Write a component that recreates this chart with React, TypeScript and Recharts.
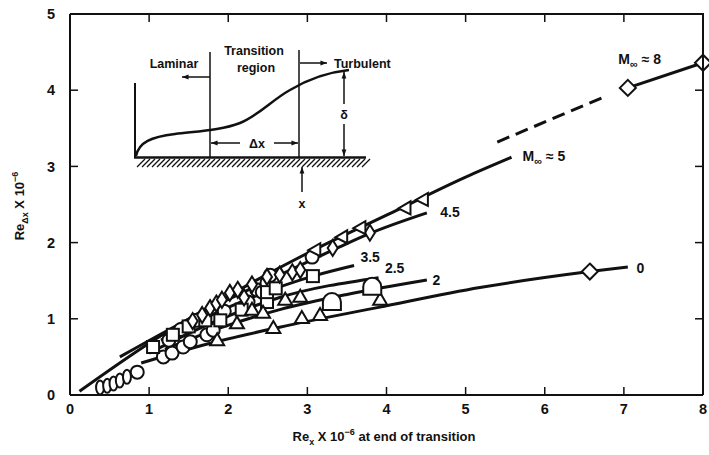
import React from 'react'
import { ComposedChart, Line, Scatter, XAxis, YAxis } from 'recharts'

const INK = '#111'
const FONT = '"Liberation Sans", Arial, sans-serif'

const X_TICKS = [0, 1, 2, 3, 4, 5, 6, 7, 8]
const Y_TICKS = [0, 1, 2, 3, 4, 5]

// plot box in page pixels (margin + axis sizes below)
const BOX = { left: 70, top: 14, right: 703, bottom: 395 }

// faired curves, Re_x vs Re_dx (both x 1e-6)
const mach5Curve = [
  { x: 0.12, y: 0.05 }, { x: 1.0, y: 0.68 }, { x: 2.0, y: 1.3 }, { x: 3.0, y: 1.86 },
  { x: 4.0, y: 2.36 }, { x: 5.0, y: 2.86 }, { x: 5.58, y: 3.12 },
]
const mach8Dashed = [{ x: 5.4, y: 3.32 }, { x: 6.75, y: 3.91 }]
const mach8Curve = [{ x: 7.05, y: 4.03 }, { x: 8.0, y: 4.36 }]
const mach45Curve = [
  { x: 0.63, y: 0.5 }, { x: 1.6, y: 1.05 }, { x: 2.5, y: 1.5 }, { x: 3.32, y: 1.9 },
  { x: 3.79, y: 2.12 }, { x: 4.51, y: 2.39 },
]
const mach35Curve = [{ x: 1.15, y: 0.72 }, { x: 2.0, y: 1.15 }, { x: 3.07, y: 1.56 }, { x: 3.59, y: 1.7 }]
const mach25Curve = [{ x: 1.0, y: 0.55 }, { x: 1.8, y: 0.95 }, { x: 2.65, y: 1.28 }, { x: 3.9, y: 1.54 }]
const mach2Curve = [
  { x: 1.2, y: 0.6 }, { x: 1.9, y: 0.88 }, { x: 2.65, y: 1.12 }, { x: 3.5, y: 1.32 }, { x: 4.51, y: 1.51 },
]
const mach0Curve = [
  { x: 0.9, y: 0.42 }, { x: 1.7, y: 0.66 }, { x: 2.65, y: 0.89 }, { x: 3.9, y: 1.15 },
  { x: 5.18, y: 1.41 }, { x: 6.57, y: 1.62 }, { x: 7.05, y: 1.68 },
]

// test points
const ovalPts = [
  { x: 0.38, y: 0.1 }, { x: 0.47, y: 0.12 }, { x: 0.55, y: 0.15 }, { x: 0.63, y: 0.19 }, { x: 0.72, y: 0.24 },
]
const circlePts = [
  { x: 0.85, y: 0.3 }, { x: 1.18, y: 0.5 }, { x: 1.29, y: 0.55 }, { x: 1.43, y: 0.63 }, { x: 1.52, y: 0.7 },
  { x: 1.73, y: 0.79 }, { x: 1.81, y: 0.85 }, { x: 2.36, y: 1.38 }, { x: 2.43, y: 1.35 }, { x: 2.49, y: 1.47 },
  { x: 2.53, y: 1.57 }, { x: 3.06, y: 1.81 }, { x: 1.6, y: 0.98 }, { x: 1.4, y: 0.86 }, { x: 1.95, y: 1.1 },
  { x: 2.25, y: 1.22 }, { x: 1.25, y: 0.72 },
]
const squarePts = [
  { x: 1.05, y: 0.63 }, { x: 1.3, y: 0.79 }, { x: 1.71, y: 0.98 }, { x: 1.9, y: 0.98 }, { x: 2.17, y: 1.12 },
  { x: 2.49, y: 1.22 }, { x: 2.49, y: 1.35 }, { x: 3.07, y: 1.56 }, { x: 1.5, y: 0.9 }, { x: 2.6, y: 1.4 },
]
const diamondPts = [
  { x: 1.55, y: 0.97 }, { x: 1.67, y: 1.05 }, { x: 1.77, y: 1.14 }, { x: 1.85, y: 1.2 }, { x: 1.92, y: 1.25 },
  { x: 2.02, y: 1.34 }, { x: 2.12, y: 1.38 }, { x: 2.2, y: 1.28 }, { x: 2.3, y: 1.45 }, { x: 2.49, y: 1.55 },
  { x: 2.65, y: 1.58 }, { x: 2.81, y: 1.61 }, { x: 2.91, y: 1.64 }, { x: 3.32, y: 1.93 }, { x: 3.79, y: 2.13 },
]
const trianglePts = [
  { x: 2.11, y: 0.94 }, { x: 2.3, y: 1.12 }, { x: 2.44, y: 1.08 }, { x: 2.57, y: 0.88 }, { x: 2.72, y: 1.25 },
  { x: 2.91, y: 1.29 }, { x: 2.93, y: 1.01 }, { x: 3.16, y: 1.05 }, { x: 3.92, y: 1.25 }, { x: 1.86, y: 0.72 },
]
const domePts = [{ x: 3.31, y: 1.22 }, { x: 3.82, y: 1.42 }]
const flagPts = [
  { x: 3.1, y: 1.9 }, { x: 3.44, y: 2.07 }, { x: 3.67, y: 2.19 }, { x: 4.24, y: 2.45 }, { x: 4.46, y: 2.56 },
]
const bigDiamondPts = [{ x: 7.05, y: 4.03 }, { x: 8.0, y: 4.36 }, { x: 6.57, y: 1.62 }]

const lineTags = [
  { x: 7.2, y: 4.41, text: 'M', sub: '∞', rest: ' ≈ 8', anchor: 'middle' },
  { x: 5.72, y: 3.14, text: 'M', sub: '∞', rest: ' ≈ 5', anchor: 'start' },
  { x: 4.68, y: 2.4, text: '4.5', anchor: 'start' },
  { x: 3.67, y: 1.81, text: '3.5', anchor: 'start' },
  { x: 3.98, y: 1.67, text: '2.5', anchor: 'start' },
  { x: 4.58, y: 1.51, text: '2', anchor: 'start' },
  { x: 7.16, y: 1.67, text: '0', anchor: 'start' },
]

const markStroke = { fill: '#fff', stroke: INK, strokeWidth: 2 }

const Oval = ({ cx, cy }: any) => <ellipse cx={cx} cy={cy} rx={4} ry={7} {...markStroke} />
const Circ = ({ cx, cy }: any) => <circle cx={cx} cy={cy} r={6.5} {...markStroke} />
const Sq = ({ cx, cy }: any) => <rect x={cx - 6} y={cy - 6} width={12} height={12} {...markStroke} />
const Dia = ({ cx, cy }: any) => (
  <path d={`M${cx},${cy - 8}L${cx + 5},${cy}L${cx},${cy + 8}L${cx - 5},${cy}Z`} {...markStroke} />
)
const BigDia = ({ cx, cy }: any) => (
  <path d={`M${cx},${cy - 8}L${cx + 8},${cy}L${cx},${cy + 8}L${cx - 8},${cy}Z`} {...markStroke} />
)
const Tri = ({ cx, cy }: any) => (
  <path d={`M${cx},${cy - 7}L${cx + 7},${cy + 5}L${cx - 7},${cy + 5}Z`} {...markStroke} />
)
const Dome = ({ cx, cy }: any) => (
  <path d={`M${cx - 9},${cy + 8}L${cx - 9},${cy}A9,9 0 0 1 ${cx + 9},${cy}L${cx + 9},${cy + 8}Z`} {...markStroke} />
)
const Flag = ({ cx, cy }: any) => (
  <path d={`M${cx - 7},${cy}L${cx + 5},${cy - 7}L${cx + 5},${cy + 6}Z`} {...markStroke} />
)

const Tag = ({ cx, cy, payload }: any) => (
  <text x={cx} y={cy + 5} textAnchor={payload.anchor} fontFamily={FONT} fontWeight="bold" fontSize={14} fill={INK}>
    {payload.text}
    {payload.sub && <tspan dy={4} fontSize={11}>{payload.sub}</tspan>}
    {payload.rest && <tspan dy={-4}>{payload.rest}</tspan>}
  </text>
)

const curveProps = {
  dataKey: 'y',
  type: 'monotone' as const,
  stroke: INK,
  strokeWidth: 3,
  dot: false,
  activeDot: false,
  isAnimationActive: false,
}

function Arrow({ x1, y1, x2, y2 }: { x1: number; y1: number; x2: number; y2: number }) {
  const a = Math.atan2(y2 - y1, x2 - x1)
  const h = 7
  const p1 = `${x2 - h * Math.cos(a - 0.35)},${y2 - h * Math.sin(a - 0.35)}`
  const p2 = `${x2 - h * Math.cos(a + 0.35)},${y2 - h * Math.sin(a + 0.35)}`
  return (
    <g>
      <line x1={x1} y1={y1} x2={x2} y2={y2} stroke={INK} strokeWidth={1.5} />
      <path d={`M${x2},${y2}L${p1}L${p2}Z`} fill={INK} />
    </g>
  )
}

// top and right edges of the box, ticks pointing inward
function Frame() {
  const w = BOX.right - BOX.left
  const h = BOX.bottom - BOX.top
  const topTicks = X_TICKS.slice(1, -1).map(v => BOX.left + (v / 8) * w)
  const rightTicks = Y_TICKS.slice(1, -1).map(v => BOX.bottom - (v / 5) * h)
  return (
    <g>
      <path d={`M${BOX.left},${BOX.top} H${BOX.right} V${BOX.bottom}`} fill="none" stroke={INK} strokeWidth={2} />
      {topTicks.map(px => (
        <line key={`t${px}`} x1={px} y1={BOX.top} x2={px} y2={BOX.top + 8} stroke={INK} strokeWidth={1.5} />
      ))}
      {rightTicks.map(py => (
        <line key={`r${py}`} x1={BOX.right} y1={py} x2={BOX.right - 8} y2={py} stroke={INK} strokeWidth={1.5} />
      ))}
    </g>
  )
}

function Inset() {
  const hatch = []
  for (let hx = 137; hx < 366; hx += 5) {
    hatch.push(<line key={hx} x1={hx} y1={167} x2={hx + 8} y2={159} stroke={INK} strokeWidth={1.3} />)
  }
  const t = { fontFamily: FONT, fontWeight: 'bold' as const, fontSize: 12.5, fill: INK }
  return (
    <g>
      <line x1={135} y1={83} x2={135} y2={157} stroke={INK} strokeWidth={2} />
      <line x1={134} y1={157.5} x2={366} y2={157.5} stroke={INK} strokeWidth={2.5} />
      {hatch}
      <path
        d="M136,156 C139,142 151,137 175,134 C200,131 222,130 240,123 C258,116 272,100 290,90 C310,78 330,72 349,70"
        fill="none" stroke={INK} strokeWidth={2.5}
      />
      <line x1={210} y1={52} x2={210} y2={157} stroke={INK} strokeWidth={1.5} />
      <line x1={299} y1={50} x2={299} y2={157} stroke={INK} strokeWidth={1.5} />
      <Arrow x1={210} y1={77} x2={182} y2={77} />
      <Arrow x1={300} y1={63} x2={327} y2={63} />
      <Arrow x1={344} y1={104} x2={344} y2={72} />
      <Arrow x1={344} y1={124} x2={344} y2={156} />
      <Arrow x1={240} y1={143} x2={211} y2={143} />
      <Arrow x1={274} y1={143} x2={298} y2={143} />
      <Arrow x1={302} y1={192} x2={302} y2={167} />
      <text x={174} y={68} textAnchor="middle" {...t}>Laminar</text>
      <text x={254} y={55} textAnchor="middle" {...t}>Transition</text>
      <text x={256} y={72} textAnchor="middle" {...t}>region</text>
      <text x={334} y={68} {...t}>Turbulent</text>
      <text x={344} y={119} textAnchor="middle" {...t}>δ</text>
      <text x={257} y={148} textAnchor="middle" {...t}>Δx</text>
      <text x={302} y={208} textAnchor="middle" {...t}>x</text>
    </g>
  )
}

function Titles() {
  const t = { fontFamily: FONT, fontWeight: 'bold' as const, fill: INK }
  return (
    <g>
      <text x={384} y={441} textAnchor="middle" fontSize={13} {...t}>
        Re<tspan dy={4} fontSize={9}>x</tspan>
        <tspan dy={-4}> X 10</tspan>
        <tspan dy={-6} fontSize={9}>−6</tspan>
        <tspan dy={6}> at end of transition</tspan>
      </text>
      <text x={24} y={206} textAnchor="middle" fontSize={13} transform="rotate(-90 24 206)" {...t}>
        Re<tspan dy={4} fontSize={9}>Δx</tspan>
        <tspan dy={-4}> X 10</tspan>
        <tspan dy={-6} fontSize={9}>−6</tspan>
      </text>
    </g>
  )
}

const tickStyle = { fontFamily: FONT, fontWeight: 'bold', fontSize: 14.5, fill: INK }
const axisLine = { stroke: INK, strokeWidth: 2 }
const tickLine = { stroke: INK, strokeWidth: 1.5 }

export default function App() {
  return (
    <div style={{ position: 'absolute', left: 0, top: 0, width: 709, height: 455, background: '#fff' }}>
      <ComposedChart width={709} height={455} margin={{ top: BOX.top, right: 709 - BOX.right, bottom: 30, left: 30 }}>
        <XAxis
          type="number" dataKey="x" domain={[0, 8]} ticks={X_TICKS} height={30}
          axisLine={axisLine} tickLine={tickLine} tickSize={-8} tickMargin={17} tick={tickStyle}
        />
        <YAxis
          type="number" dataKey="y" domain={[0, 5]} ticks={Y_TICKS} width={40}
          axisLine={axisLine} tickLine={tickLine} tickSize={-8} tickMargin={23} tick={tickStyle}
        />
        <Line data={mach5Curve} {...curveProps} />
        <Line data={mach8Dashed} {...curveProps} type="linear" strokeDasharray="13 7" />
        <Line data={mach8Curve} {...curveProps} type="linear" />
        <Line data={mach45Curve} {...curveProps} />
        <Line data={mach35Curve} {...curveProps} />
        <Line data={mach25Curve} {...curveProps} />
        <Line data={mach2Curve} {...curveProps} />
        <Line data={mach0Curve} {...curveProps} />
        <Scatter data={ovalPts} shape={Oval} isAnimationActive={false} />
        <Scatter data={circlePts} shape={Circ} isAnimationActive={false} />
        <Scatter data={squarePts} shape={Sq} isAnimationActive={false} />
        <Scatter data={trianglePts} shape={Tri} isAnimationActive={false} />
        <Scatter data={domePts} shape={Dome} isAnimationActive={false} />
        <Scatter data={diamondPts} shape={Dia} isAnimationActive={false} />
        <Scatter data={flagPts} shape={Flag} isAnimationActive={false} />
        <Scatter data={bigDiamondPts} shape={BigDia} isAnimationActive={false} />
        <Scatter data={lineTags} shape={Tag} isAnimationActive={false} />
      </ComposedChart>
      <svg width={709} height={455} style={{ position: 'absolute', left: 0, top: 0, pointerEvents: 'none' }}>
        <Frame />
        <Inset />
        <Titles />
      </svg>
    </div>
  )
}
